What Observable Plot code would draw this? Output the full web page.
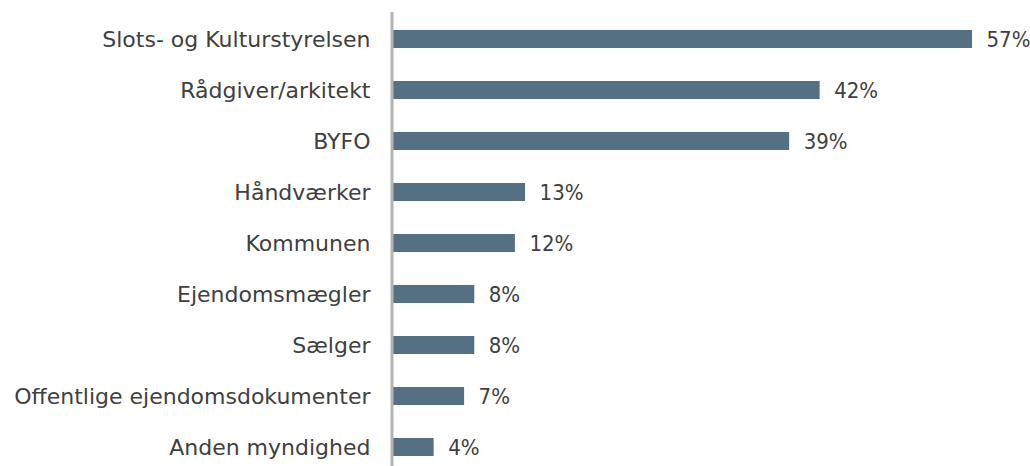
<!DOCTYPE html>
<html>
<head>
<meta charset="utf-8">
<script src="https://cdn.jsdelivr.net/npm/d3@7"></script>
<script src="https://cdn.jsdelivr.net/npm/@observablehq/plot@0.6"></script>
<style>
  html, body { margin: 0; padding: 0; background: #fff; overflow: hidden; }
</style>
</head>
<body>
<div id="chart"></div>
<script>
const categories = [
  "Slots- og Kulturstyrelsen",
  "Rådgiver/arkitekt",
  "BYFO",
  "Håndværker",
  "Kommunen",
  "Ejendomsmægler",
  "Sælger",
  "Offentlige ejendomsdokumenter",
  "Anden myndighed"
];
const values = [57, 42, 39, 13, 12, 8, 8, 7, 4];
const valueLabels = ["57%", "42%", "39%", "13%", "12%", "8%", "8%", "7%", "4%"];

const data = categories.map((c, i) => ({ category: c, value: values[i], label: valueLabels[i] }));

const chart = Plot.plot({
  width: 1030,
  height: 466,
  marginTop: 0,
  marginBottom: 0,
  marginLeft: 0,
  marginRight: 0,
  style: { fontFamily: "'DejaVu Sans'", fontSize: "22px", color: "#404040", background: "#fff" },
  x: { domain: [0, 57], range: [393, 972], axis: null },
  y: { domain: categories, range: [12, 475], paddingInner: 0.64, paddingOuter: 0.32, axis: null },
  marks: [
    Plot.barX(data, { x: "value", y: "category", fill: "#557083" }),
    Plot.text(data, { x: 0, y: "category", text: "category", textAnchor: "end", dx: -23, fill: "#404040", fontSize: 22, fontFamily: "'DejaVu Sans'" }),
    Plot.text(data, { x: "value", y: "category", text: "label", textAnchor: "start", dx: 14, fill: "#404040", fontSize: 22, fontFamily: "'DejaVu Sans Condensed', 'DejaVu Sans'" }),
    Plot.ruleX([0], { insetTop: 12, stroke: "#b3b3b3", strokeWidth: 3, dx: -1.5 })
  ]
});
document.getElementById("chart").appendChild(chart);
</script>
</body>
</html>
